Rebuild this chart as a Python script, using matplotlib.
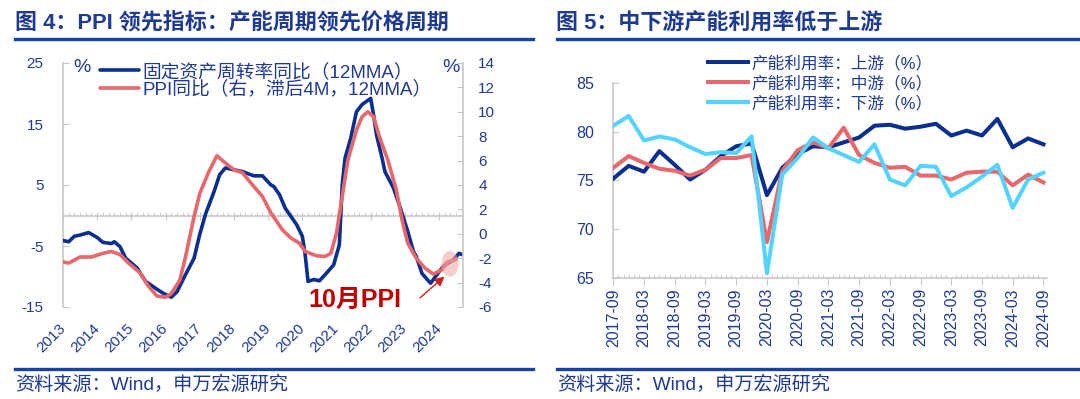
import matplotlib
matplotlib.use('Agg')
import matplotlib.pyplot as plt
from matplotlib.patches import Ellipse
from matplotlib.lines import Line2D
from matplotlib.ticker import FixedLocator, MultipleLocator
import numpy as np

plt.rcParams['font.family'] = ['Liberation Sans', 'Noto Sans CJK SC']
plt.rcParams['axes.unicode_minus'] = False

# ---------------- Data: chart 4 ----------------
turnover_months = ['2013-01', '2013-03', '2013-05', '2013-07', '2013-10', '2014-01', '2014-03', '2014-06',
                   '2014-07', '2014-09', '2014-11', '2015-03', '2015-06', '2015-10', '2015-12', '2016-03',
                   '2016-05', '2016-08', '2016-11', '2017-01', '2017-03', '2017-06', '2017-08', '2017-10',
                   '2018-01', '2018-04', '2018-08', '2018-11', '2019-02', '2019-03', '2019-05', '2019-07',
                   '2019-11', '2020-01', '2020-02', '2020-03', '2020-05', '2020-07', '2020-09', '2020-12',
                   '2021-02', '2021-03', '2021-04', '2021-06', '2021-08', '2021-10', '2022-01', '2022-02',
                   '2022-03', '2022-05', '2022-06', '2022-09', '2022-11', '2023-02', '2023-04', '2023-05',
                   '2023-07', '2023-10', '2023-11', '2024-01', '2024-03', '2024-06', '2024-08', '2024-09']
turnover_yoy = [-4.1, -4.3, -3.4, -3.2, -2.8, -3.6, -4.4, -4.6,
                -4.3, -5.1, -7.0, -8.6, -10.8, -12.1, -12.7, -13.4,
                -12.5, -9.7, -7.0, -3.1, 0.2, 3.9, 6.7, 7.8,
                7.5, 7.2, 6.5, 6.5, 5.0, 4.75, 3.4, 1.2,
                -1.5, -3.4, -6.4, -10.8, -10.5, -10.7, -9.7, -8.1,
                -4.8, 5.0, 9.4, 12.7, 17.0, 18.2, 19.2, 16.5,
                13.3, 9.4, 7.2, 4.5, 1.8, -2.6, -5.9, -6.7,
                -9.5, -11.1, -10.5, -9.2, -8.1, -7.3, -6.2, -6.4]

ppi_months = ['2013-01', '2013-03', '2013-07', '2013-11', '2014-03', '2014-06', '2014-09', '2014-12',
              '2015-04', '2015-07', '2015-10', '2016-01', '2016-03', '2016-06', '2016-08', '2016-11',
              '2017-01', '2017-04', '2017-07', '2017-10', '2018-01', '2018-04', '2018-07', '2018-11',
              '2019-02', '2019-06', '2019-09', '2019-12', '2020-02', '2020-06', '2020-09', '2020-11',
              '2021-01', '2021-03', '2021-05', '2021-08', '2021-10', '2021-12', '2022-02', '2022-04',
              '2022-07', '2022-10', '2022-12', '2023-02', '2023-05', '2023-08', '2023-11', '2024-02',
              '2024-04', '2024-07']
ppi_yoy = [-2.3, -2.4, -1.9, -1.9, -1.6, -1.45, -1.7, -2.4,
           -3.2, -4.3, -5.1, -5.2, -4.9, -3.8, -1.9, 1.4,
           3.3, 5.0, 6.4, 5.8, 5.25, 5.0, 4.15, 3.06,
           1.7, 0.33, -0.35, -0.77, -1.45, -1.8, -1.86, -1.6,
           0.05, 3.06, 6.06, 8.5, 9.6, 10.0, 9.6, 8.0,
           6.06, 3.6, 1.15, -0.77, -2.0, -2.8, -3.3, -2.95,
           -2.3, -2.1]

year_labels = ['2013', '2014', '2015', '2016', '2017', '2018', '2019', '2020', '2021', '2022', '2023', '2024']
left_yticks = [-15, -5, 5, 15, 25]
right_yticks = [-6, -4, -2, 0, 2, 4, 6, 8, 10, 12, 14]

# ---------------- Data: chart 5 ----------------
util_quarters = ['2017-09', '2017-12', '2018-03', '2018-06', '2018-09', '2018-12', '2019-03', '2019-06',
                 '2019-09', '2019-12', '2020-03', '2020-06', '2020-09', '2020-12', '2021-03', '2021-06',
                 '2021-09', '2021-12', '2022-03', '2022-06', '2022-09', '2022-12', '2023-03', '2023-06',
                 '2023-09', '2023-12', '2024-03', '2024-06', '2024-09']
util_upstream = [75.2, 76.5, 75.9, 78.0, 76.6, 75.1, 76.1, 77.5, 78.5, 78.8, 73.5, 76.3, 77.7, 78.5, 78.4,
                 78.9, 79.4, 80.6, 80.7, 80.3, 80.5, 80.8, 79.6, 80.1, 79.6, 81.3, 78.4, 79.3, 78.7]
util_midstream = [76.3, 77.5, 76.8, 76.2, 76.0, 75.5, 76.1, 77.3, 77.3, 77.6, 68.7, 76.0, 78.1, 78.9, 78.3,
                  80.4, 77.6, 76.8, 76.3, 76.4, 75.5, 75.5, 75.1, 75.8, 75.9, 75.9, 74.5, 75.6, 74.8]
util_downstream = [80.6, 81.6, 79.1, 79.5, 79.2, 78.4, 77.7, 77.9, 77.8, 79.5, 65.5, 75.6, 77.3, 79.4, 78.3,
                   77.6, 76.9, 78.7, 75.1, 74.5, 76.5, 76.4, 73.4, 74.3, 75.4, 76.6, 72.2, 75.1, 75.8]
util_tick_labels = ['2017-09', '2018-03', '2018-09', '2019-03', '2019-09', '2020-03', '2020-09', '2021-03',
                    '2021-09', '2022-03', '2022-09', '2023-03', '2023-09', '2024-03', '2024-09']
util_yticks = [65, 70, 75, 80, 85]

# ---------------- helpers ----------------
def ym_to_year(s):
    y, m = s.split('-')
    return int(y) + (int(m) - 1) / 12.0

def ym_to_month_index(s, base='2017-09'):
    y, m = s.split('-')
    by, bm = base.split('-')
    return (int(y) - int(by)) * 12 + int(m) - int(bm)

NAVY = '#0A2F8F'
SALMON = '#E8676A'
SKY = '#55D3FF'
TXT = '#1F3A93'
GRID = '#C8C8C8'
RULE = '#1744A3'

W, H = 1080, 399
fig = plt.figure(figsize=(W / 100, H / 100), dpi=100)

def rect(x0, y0, x1, y1):
    return [x0 / W, 1 - y1 / H, (x1 - x0) / W, (y1 - y0) / H]

# ---------------- titles and rules ----------------
fig.text(15 / W, 1 - 24 / H, '图 4：PPI 领先指标：产能周期领先价格周期', fontsize=15.8,
         fontweight='bold', color=TXT, va='center', ha='left')
fig.text(556 / W, 1 - 24 / H, '图 5：中下游产能利用率低于上游', fontsize=15.8,
         fontweight='bold', color=TXT, va='center', ha='left')
for (xa, xb) in [(15, 533), (557, 1080)]:
    fig.add_artist(Line2D([xa / W, xb / W], [1 - 39 / H] * 2, color=RULE, lw=2.4))
    fig.add_artist(Line2D([xa / W, xb / W], [1 - 369 / H] * 2, color=RULE, lw=2.4))
fig.text(15 / W, 1 - 385 / H, '资料来源：Wind，申万宏源研究', fontsize=13.8, color=TXT, va='center')
fig.text(557 / W, 1 - 385 / H, '资料来源：Wind，申万宏源研究', fontsize=13.8, color=TXT, va='center')

# ---------------- chart 4 ----------------
ax1 = fig.add_axes(rect(63, 63, 463, 307))
ax2 = ax1.twinx()
tx = [ym_to_year(m) for m in turnover_months]
px = [ym_to_year(m) for m in ppi_months]
l1, = ax1.plot(tx, turnover_yoy, color=NAVY, lw=2.6, solid_capstyle='round', zorder=3)
l2, = ax2.plot(px, ppi_yoy, color=SALMON, lw=2.6, solid_capstyle='round', zorder=3)
ax1.set_xlim(2013.0, 2024.7)
ax1.set_ylim(-15, 25)
ax2.set_ylim(-6, 14)
ax1.set_yticks(left_yticks)
ax2.set_yticks(right_yticks)

for a in (ax1, ax2):
    a.spines['top'].set_visible(False)
    for s in a.spines.values():
        s.set_color(GRID)
        s.set_linewidth(1.2)
ax2.spines['bottom'].set_visible(False)
ax2.spines['left'].set_visible(False)
ax1.spines['right'].set_visible(False)
ax1.spines['bottom'].set_position(('data', 0))

yr_pos = [float(y) for y in year_labels]
ax1.xaxis.set_major_locator(FixedLocator(yr_pos))
ax1.xaxis.set_minor_locator(MultipleLocator(1 / 6))
ax1.tick_params(axis='x', which='major', direction='inout', length=6, color=GRID, labelbottom=False)
ax1.tick_params(axis='x', which='minor', direction='in', length=3, color=GRID)
ax1.tick_params(axis='y', direction='in', length=4, color=GRID, labelsize=11, labelcolor=TXT, pad=14)
ax2.tick_params(axis='y', direction='in', length=4, color=GRID, labelsize=11, labelcolor=TXT, pad=11)

sec = ax1.secondary_xaxis('bottom')
sec.set_xticks(yr_pos)
sec.set_xticklabels(year_labels)
sec.spines['bottom'].set_visible(False)
sec.tick_params(axis='x', length=0, labelsize=11, labelcolor=TXT, pad=14)
for lab in sec.get_xticklabels():
    lab.set_rotation(45)
    lab.set_ha('right')
    lab.set_va('center')
    lab.set_rotation_mode('anchor')

ax1.text(0.026, 0.98, '%', transform=ax1.transAxes, fontsize=14, color=TXT, ha='left', va='center')
ax1.text(0.948, 0.98, '%', transform=ax1.transAxes, fontsize=14, color=TXT, ha='left', va='center')

leg = ax2.legend([l1, l2], ['固定资产周转率同比（12MMA）', 'PPI同比（右，滞后4M，12MMA）'],
                 loc='upper left', bbox_to_anchor=(0.0925, 1.0), frameon=False, fontsize=13.5,
                 handlelength=2.1, handletextpad=0.15, labelspacing=0.0, borderpad=0, borderaxespad=0)
for t in leg.get_texts():
    t.set_color(TXT)

ell = Ellipse((2024.32, -2.46), 0.5, 2.1, facecolor='#EFA3A3', edgecolor='none', alpha=0.55, zorder=4)
ax2.add_patch(ell)
ax1.annotate('', xy=(2024.22, -9.7), xytext=(2023.38, -13.8),
             arrowprops=dict(arrowstyle='-|>', color='#D21E1E', lw=1.0, mutation_scale=14), zorder=5)
ax1.text(2021.54, -13.8, '10月PPI', fontsize=18, fontweight='bold', color='#C00000',
         ha='center', va='center', zorder=5)

# ---------------- chart 5 ----------------
ax3 = fig.add_axes(rect(613.3, 82.7, 1046.5, 278.3))
qx = [ym_to_month_index(q) for q in util_quarters]
h1, = ax3.plot(qx, util_upstream, color=NAVY, lw=2.9, zorder=3)
h2, = ax3.plot(qx, util_midstream, color=SALMON, lw=2.9, zorder=3)
h3, = ax3.plot(qx, util_downstream, color=SKY, lw=2.9, zorder=4)
ax3.set_xlim(0, 84.6)
ax3.set_ylim(65, 85)
ax3.set_yticks(util_yticks)
tick_pos = [ym_to_month_index(t) for t in util_tick_labels]
ax3.set_xticks(tick_pos)
ax3.set_xticklabels(util_tick_labels, rotation=90)
ax3.xaxis.set_minor_locator(MultipleLocator(1))
for s in ['top', 'right']:
    ax3.spines[s].set_visible(False)
for s in ['left', 'bottom']:
    ax3.spines[s].set_color(GRID)
    ax3.spines[s].set_linewidth(1.2)
ax3.tick_params(axis='x', which='major', direction='out', length=5, color=GRID, labelsize=11.5,
                labelcolor=TXT, pad=2)
ax3.tick_params(axis='x', which='minor', direction='in', length=3, color=GRID)
ax3.tick_params(axis='y', direction='in', length=4, color=GRID, labelsize=11.5, labelcolor=TXT, pad=14)

leg2 = ax3.legend([h1, h2, h3], ['产能利用率：上游（%）', '产能利用率：中游（%）', '产能利用率：下游（%）'],
                  loc='upper left', bbox_to_anchor=(0.219, 1.14), frameon=False, fontsize=12,
                  handlelength=2.4, handletextpad=0.2, labelspacing=0.25, borderpad=0, borderaxespad=0)
for t in leg2.get_texts():
    t.set_color(TXT)

fig.savefig('out.png', dpi=100)
